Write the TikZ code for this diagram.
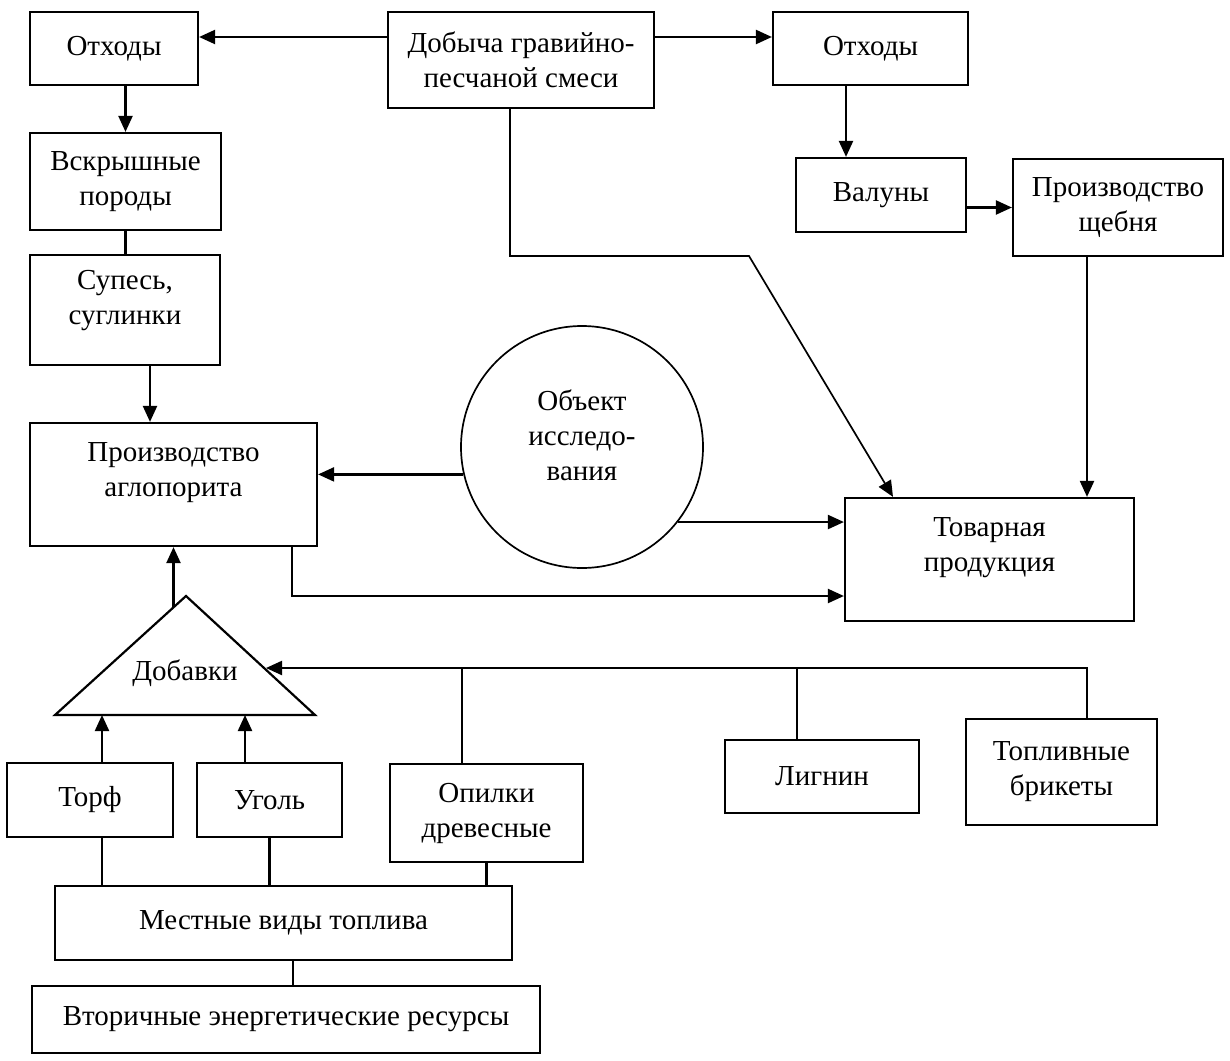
\documentclass[tikz,border=0pt]{standalone}
\usepackage{fontspec}
\setmainfont{Liberation Serif}
\usetikzlibrary{arrows.meta}

\begin{document}
\begin{tikzpicture}[
x=0.5pt, y=-0.5pt,
txt/.style={font=\fontsize{14.5}{17.5}\selectfont},
box/.style={txt,draw,line width=1.1pt,align=center,inner sep=0pt},
link/.style={line width=1.1pt},
arrow/.style={-{Triangle[length=8pt,width=7pt]},line width=1.1pt} ]

\useasboundingbox (0,0) rectangle (1230,1060);

\node[box,minimum width=84pt,minimum height=36.5pt](otxL) at (114,48.5) {Отходы};

\node[box,minimum width=133pt,minimum height=48pt](dob) at (521,60) {Добыча гравийно-\\песчаной смеси};

\node[box,minimum width=97.5pt,minimum height=36.5pt](otxR) at (870.5,48.5) {Отходы};

\node[box,minimum width=95.5pt,minimum height=48.5pt](vskr) at (125.5,181.5) {Вскрышные\\породы};

\node[box,minimum width=95pt,minimum height=55pt,text depth=13pt](supes) at (125,310) {Супесь,\\суглинки};

\node[box,minimum width=143.5pt,minimum height=61.5pt,text depth=15.5pt](aglop) at (173.5,484.5) {Производство\\аглопорита};

\node[box,minimum width=85pt,minimum height=37pt](valun) at (881,195) {Валуны};

\node[box,minimum width=105pt,minimum height=48.5pt](shch) at (1118,207.5) {Производство\\щебня};

\node[box,circle,line width=0.85pt,minimum size=121pt,text depth=12pt](obj) at (582,447) {Объект\\исследо-\\вания};

\node[box,minimum width=144.5pt,minimum height=61.5pt,text depth=15.5pt](tov) at (989.5,559.5) {Товарная\\продукция};

\node[box,minimum width=83pt,minimum height=37pt](torf) at (90,800) {Торф};

\node[box,minimum width=72.5pt,minimum height=37pt](ugol) at (269.5,800) {Уголь};

\node[box,minimum width=96.5pt,minimum height=49pt](opil) at (486.5,813) {Опилки\\древесные};

\node[box,minimum width=97pt,minimum height=36.5pt](lign) at (822,776.5) {Лигнин};

\node[box,minimum width=95.5pt,minimum height=53pt](topl) at (1061.5,772) {Топливные\\брикеты};

\node[box,minimum width=228.5pt,minimum height=37pt](mest) at (283.5,923) {Местные виды топлива};

\node[box,minimum width=254pt,minimum height=33.5pt](vtor) at (286,1019.5) {Вторичные энергетические ресурсы};

\coordinate (addtop) at (186,596);
\coordinate (addleft) at (55,715);
\coordinate (addright) at (315,715);
\coordinate (addout) at (173.5,607.4);
\coordinate (addin) at (266,668);

\draw[link] (addtop) -- (addleft) -- (addright) -- cycle;

\node[txt](add) at (185,673) {Добавки};

\coordinate (ytop) at (0,37);
\coordinate (ylow) at (0,596);
\coordinate (yfeed) at (0,668);
\coordinate (xsup) at (150,0);
\coordinate (xdob) at (510,0);
\coordinate (xtov) at (893,0);
\coordinate (xotx) at (846,0);
\coordinate (xshch) at (1087,0);
\coordinate (xagl) at (292,0);
\coordinate (xtorf) at (102,0);
\coordinate (xugol) at (245,0);
\coordinate (xopil) at (462,0);
\coordinate (xlign) at (797,0);
\coordinate (xtopl) at (1087,0);
\coordinate (xmest) at (293,0);
\coordinate (dobbend) at (749,256);

\draw[arrow] (dob.west |- ytop) -- (otxL.east |- ytop);

\draw[arrow] (dob.east |- ytop) -- (otxR.west |- ytop);

\draw[arrow] (vskr.north |- otxL.south) -- (vskr.north);

\draw[link] (vskr.south) -- (vskr.south |- supes.north);

\draw[arrow] (xsup |- supes.south) -- (xsup |- aglop.north);

\draw[arrow] (xotx |- otxR.south) -- (xotx |- valun.north);

\draw[arrow] (valun.east |- shch.west) -- (shch.west);

\draw[arrow] (xshch |- shch.south) -- (xshch |- tov.north);

\draw[arrow,line width=0.85pt] (xdob |- dob.south) |- (dobbend) -- (xtov |- tov.north);

\draw[arrow] (obj.193) -- (obj.193 -| aglop.east);

\draw[arrow] (obj.-38) -- (obj.-38 -| tov.west);

\draw[arrow] (xagl |- aglop.south) |- (tov.west |- ylow);

\draw[arrow] (addout) -- (addout |- aglop.south);

\draw[arrow] (xtopl |- topl.north) |- (addin);

\draw[link] (xlign |- lign.north) -- (xlign |- yfeed);

\draw[link] (xopil |- opil.north) -- (xopil |- yfeed);

\draw[arrow] (xtorf |- torf.north) -- (xtorf |- addleft);

\draw[arrow] (xugol |- ugol.north) -- (xugol |- addleft);

\draw[link] (xtorf |- torf.south) -- (xtorf |- mest.north);

\draw[link] (ugol.south) -- (ugol.south |- mest.north);

\draw[link] (opil.south) -- (opil.south |- mest.north);

\draw[link] (xmest |- mest.south) -- (xmest |- vtor.north);
\end{tikzpicture}
\end{document}
